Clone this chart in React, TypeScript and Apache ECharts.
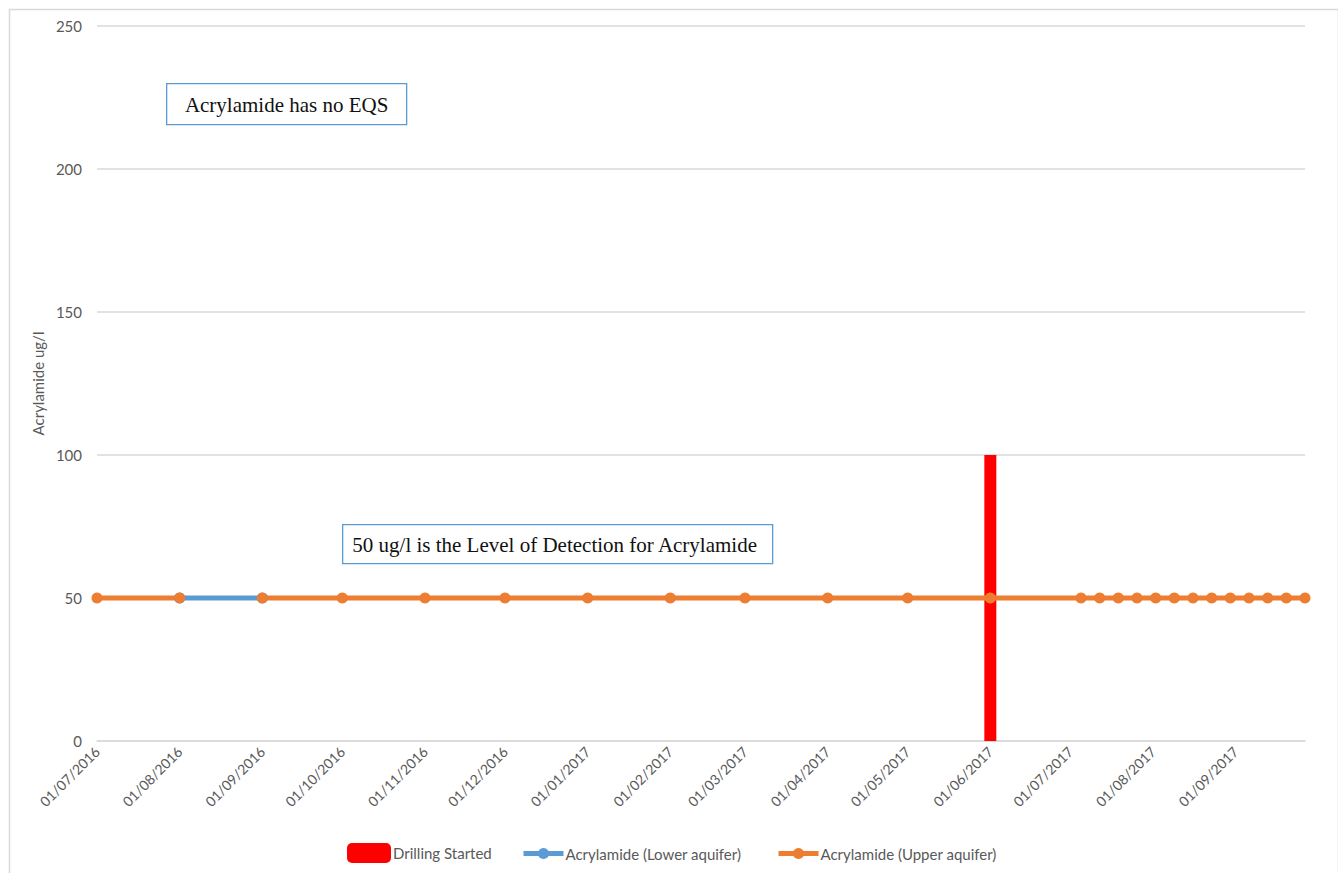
import React, { useEffect, useRef } from "react";
import * as echarts from "echarts";

// Sampling dates and measured concentrations (ug/l)
const upperDates = [
  "2016-07-01", "2016-08-01", "2016-08-15", "2016-09-01", "2016-10-01", "2016-11-01",
  "2016-12-01", "2017-01-01", "2017-02-01", "2017-03-01", "2017-04-01",
  "2017-05-01", "2017-06-01", "2017-07-05", "2017-07-12", "2017-07-19",
  "2017-07-26", "2017-08-02", "2017-08-09", "2017-08-16", "2017-08-23",
  "2017-08-30", "2017-09-06", "2017-09-13", "2017-09-20", "2017-09-27",
];
const upperValues = [
  50, 50, null, 50, 50, 50, 50, 50, 50, 50, 50, 50, 50, 50, 50, 50, 50, 50, 50, 50,
  50, 50, 50, 50, 50, 50,
];
const lowerDates = ["2016-08-01", "2016-09-01"];
const lowerValues = [50, 50];
const drillingDates = ["2017-06-01", "2017-06-01"];
const drillingValues = [0, 100];

const axisStart = "2016-07-01";
const axisEnd = "2017-09-27";
const yTicks = { min: 0, max: 250, step: 50 };

const seriesNames = {
  drilling: "Drilling Started",
  lower: "Acrylamide (Lower aquifer)",
  upper: "Acrylamide (Upper aquifer)",
};
const notes = {
  eqs: "Acrylamide has no EQS",
  lod: "50 ug/l is the Level of Detection for Acrylamide",
};

const FONT = "Lato, 'Open Sans', sans-serif";
const SERIF = "'Liberation Serif', 'DejaVu Serif', serif";
const DAY = 86400000;
const GREY = "#595959";

const pair = (d: string[], v: (number | null)[]) => d.map((x, i) => [x, v[i]]);

export default function App() {
  const ref = useRef<HTMLDivElement>(null);

  useEffect(() => {
    document.body.style.margin = "0";
    const chart = echarts.init(ref.current!, null, { renderer: "svg" });
    const legendText = { color: GREY, fontSize: 15, fontFamily: FONT, padding: [0, 0, 0, -3] };
    chart.setOption({
      animation: false,
      backgroundColor: "#ffffff",
      grid: { left: 97, right: 33, top: 26, bottom: 132, containLabel: false },
      xAxis: {
        type: "time",
        min: axisStart,
        max: axisEnd,
        minInterval: 28 * DAY,
        maxInterval: 31 * DAY,
        axisLine: { show: true, lineStyle: { color: "#d9d9d9", width: 1.5 } },
        axisTick: { show: false },
        splitLine: { show: false },
        axisLabel: {
          rotate: 45,
          formatter: "{dd}/{MM}/{yyyy}",
          color: GREY,
          fontSize: 14,
          fontFamily: FONT,
          margin: 8,
          hideOverlap: false,
        },
      },
      yAxis: {
        type: "value",
        min: yTicks.min,
        max: yTicks.max,
        interval: yTicks.step,
        name: "Acrylamide ug/l",
        nameLocation: "middle",
        nameGap: 50,
        nameTextStyle: { color: GREY, fontSize: 15, fontFamily: FONT },
        axisLine: { show: false },
        axisTick: { show: false },
        splitLine: { lineStyle: { color: "#d9d9d9", width: 1.5 } },
        axisLabel: { color: GREY, fontSize: 15, fontFamily: FONT, margin: 15 },
      },
      legend: [
        {
          data: [{ name: seriesNames.drilling, icon: "roundRect" }],
          left: 342,
          top: 838,
          itemWidth: 44,
          itemHeight: 20,
          textStyle: legendText,
        },
        {
          data: [seriesNames.lower],
          left: 516,
          top: 841,
          itemWidth: 40,
          itemHeight: 14,
          lineStyle: { width: 5 },
          textStyle: legendText,
        },
        {
          data: [seriesNames.upper],
          left: 771,
          top: 841,
          itemWidth: 40,
          itemHeight: 14,
          lineStyle: { width: 5 },
          textStyle: legendText,
        },
      ],
      series: [
        {
          name: seriesNames.drilling,
          type: "line",
          data: pair(drillingDates, drillingValues),
          symbol: "none",
          color: "#ff0000",
          lineStyle: { color: "#ff0000", width: 12 },
        },
        {
          name: seriesNames.lower,
          type: "line",
          data: pair(lowerDates, lowerValues),
          symbol: "circle",
          symbolSize: 11,
          color: "#5b9bd5",
          itemStyle: { color: "#5b9bd5" },
          lineStyle: { color: "#5b9bd5", width: 5 },
        },
        {
          name: seriesNames.upper,
          type: "line",
          data: pair(upperDates, upperValues),
          connectNulls: false,
          symbol: "circle",
          symbolSize: 11,
          color: "#ed7d31",
          itemStyle: { color: "#ed7d31" },
          lineStyle: { color: "#ed7d31", width: 5 },
        },
      ],
      graphic: [
        {
          type: "rect",
          left: 7,
          top: 7,
          silent: true,
          shape: { width: 1329, height: 880 },
          style: { fill: "none", stroke: "#d9d9d9", lineWidth: 1.5 },
          z: -1,
        },
        {
          type: "group",
          left: 166,
          top: 83,
          children: [
            {
              type: "rect",
              shape: { x: 0, y: 0, width: 240, height: 41 },
              style: { fill: "#ffffff", stroke: "#5b9bd5", lineWidth: 1.3 },
            },
            {
              type: "text",
              x: 120,
              y: 21,
              style: {
                text: notes.eqs,
                fill: "#111111",
                font: `21px ${SERIF}`,
                align: "center",
                verticalAlign: "middle",
              },
            },
          ],
        },
        {
          type: "group",
          left: 342,
          top: 524,
          children: [
            {
              type: "rect",
              shape: { x: 0, y: 0, width: 430, height: 39 },
              style: { fill: "#ffffff", stroke: "#5b9bd5", lineWidth: 1.3 },
            },
            {
              type: "text",
              x: 212,
              y: 20,
              style: {
                text: notes.lod,
                fill: "#111111",
                font: `21px ${SERIF}`,
                align: "center",
                verticalAlign: "middle",
              },
            },
          ],
        },
      ],
    });
    return () => chart.dispose();
  }, []);

  return <div ref={ref} style={{ width: 1338, height: 873 }} />;
}
